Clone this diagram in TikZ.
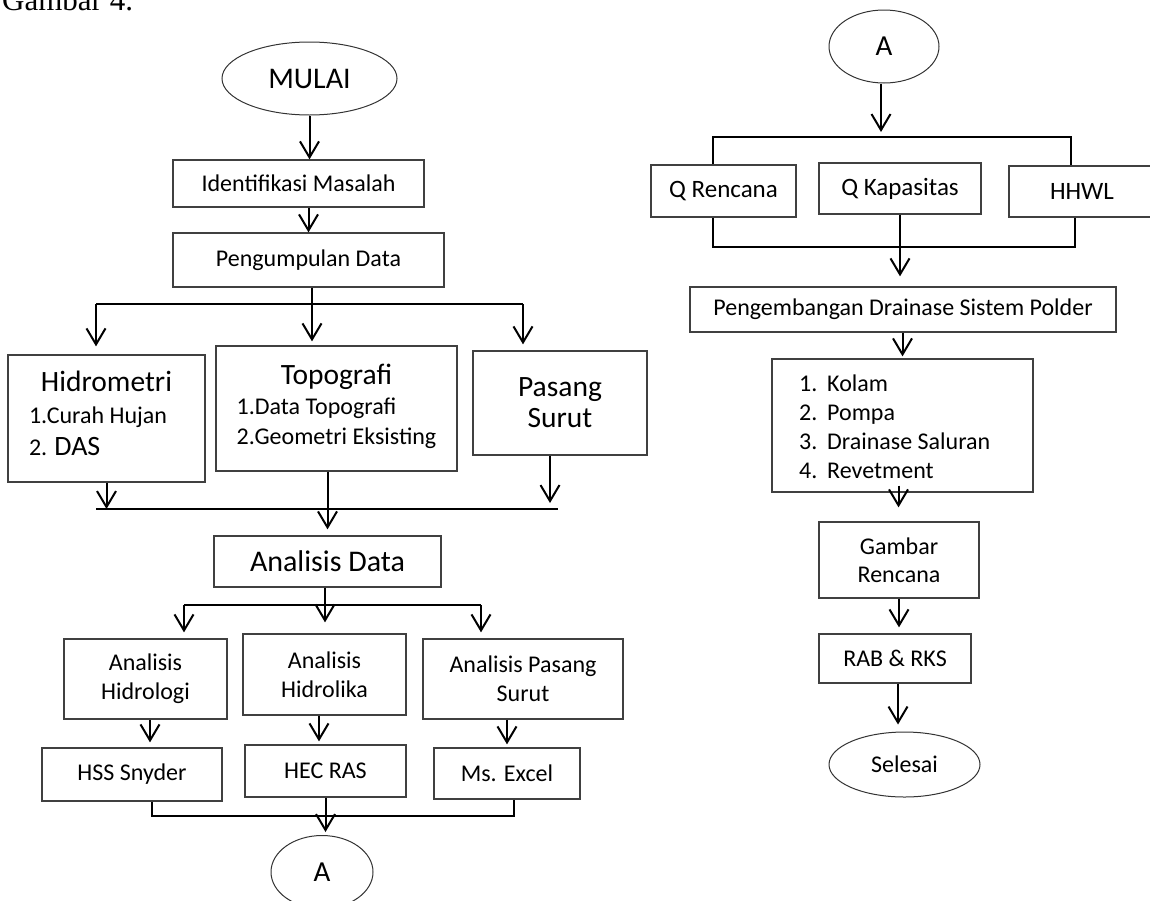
\documentclass[tikz,border=0pt]{standalone}
\usepackage{fontspec}
\setmainfont{Carlito}
\newfontfamily\serifjudul{Liberation Serif}
\usepackage{tikz}
\usetikzlibrary{positioning}
\usetikzlibrary{shapes.geometric,arrows.meta}

\newcommand\huruf[2]{\fontsize{#1pt}{#2pt}\selectfont}

\begin{document}
\begin{tikzpicture}[x=1pt, y=-1pt,
	kotak/.style={draw=black!75, line width=1.3pt, rectangle, inner sep=0pt, align=center},
	bulat/.style={draw=black!80, line width=1pt, ellipse, inner sep=0pt},
	garis/.style={line width=2pt},
	panah/.style={line width=2pt, -{Straight Barb[length=16pt,width=19pt]}},
]
\useasboundingbox (0,0) rectangle (1150,900);


\newcommand\busA{304};
\newcommand\busB{509};
\newcommand\busC{605};
\newcommand\busD{816};
\newcommand\busE{137};
\newcommand\busF{247};


% Judul
\node [anchor=base west, inner sep=0pt, font=\serifjudul\huruf{31}{36}] (judul) at (2, 10) {Gambar 4.};

% Mulai
\node [bulat,
	minimum width=175pt,
	minimum height=73pt,
	font=\huruf{30}{36}
] (mulai) at (309.5, 78.5) {MULAI};

% Identifikasi masalah
\node [kotak,
	minimum width=251pt,
	minimum height=47pt,
	font=\huruf{24}{29}
] (identifikasi) at (298.5, 183.5) {Identifikasi Masalah};

% Pengumpulan data
\node [kotak,
	minimum width=271pt,
	minimum height=54pt,
	font=\huruf{24}{29}
] (pengumpulan) at (308.5, 260) {Pengumpulan Data};

% Hidrometri
\node [kotak,
	minimum width=197pt,
	minimum height=127pt,
	font=\huruf{24}{32}
] (hidrometri) at (106.5, 418.5) {
{\huruf{29.5}{32}Hidrometri}\\
\begin{tabular}[t]{@{}l@{\hspace{17pt}}}1.Curah Hujan\\2. {\huruf{28}{32}DAS}\end{tabular}
};

% Topografi
\node [kotak,
	minimum width=241pt,
	minimum height=125pt,
	font=\huruf{24}{30}
] (topografi) at (336.5, 408.5) {
{\huruf{29.5}{32}Topografi}\\
\begin{tabular}[t]{@{}l@{}}1.Data Topografi\\2.Geometri Eksisting\end{tabular}
};

% Pasang surut
\node [kotak,
	minimum width=174pt,
	minimum height=104pt,
	font=\huruf{29.5}{31}
] (pasang) at (560, 403) {
Pasang\\
Surut
};

% Analisis data
\node [kotak,
	minimum width=227pt,
	minimum height=51pt,
	font=\huruf{30}{36}
] (analisisdata) at (327.5, 561.5) {Analisis Data};

% Analisis hidrologi
\node [kotak,
	minimum width=163pt,
	minimum height=80pt,
	font=\huruf{24}{29}
] (hidrologi) at (145.5, 679) {
Analisis\\
Hidrologi
};

% Analisis hidrolika
\node [kotak,
	minimum width=163pt,
	minimum height=81pt,
	font=\huruf{24}{29}
] (hidrolika) at (324.5, 674.5) {
Analisis\\
Hidrolika
};

% Analisis pasang surut
\node [kotak,
	minimum width=200pt,
	minimum height=80pt,
	font=\huruf{24}{29}
] (analisispasang) at (523, 679) {
Analisis Pasang\\
Surut
};

% HSS Snyder
\node [kotak,
	minimum width=180pt,
	minimum height=53pt,
	font=\huruf{24}{29}
] (hss) at (132, 774.5) {HSS Snyder};

% HEC RAS
\node [kotak,
	minimum width=161pt,
	minimum height=52pt,
	font=\huruf{24}{29}
] (hecras) at (325.5, 771) {HEC RAS};

% Ms. Excel
\node [kotak,
	minimum width=146pt,
	minimum height=51pt,
	font=\huruf{24}{29}
] (excel) at (507, 773.5) {Ms. Excel};

% Penghubung A (kiri)
\node [bulat,
	minimum width=102pt,
	minimum height=73pt,
	font=\huruf{29}{34}
] (a_kiri) at (322, 872) {A};

% Penghubung A (kanan)
\node [bulat,
	minimum width=110pt,
	minimum height=73pt,
	font=\huruf{29}{34}
] (a_kanan) at (884, 46.5) {A};

% Q rencana
\node [kotak,
	minimum width=145pt,
	minimum height=52pt,
	font=\huruf{25}{30}
] (qrencana) at (723.5, 191) {Q Rencana};

% Q kapasitas
\node [kotak,
	minimum width=162pt,
	minimum height=51pt,
	font=\huruf{25}{30}
] (qkapasitas) at (900, 188.5) {Q Kapasitas};

% HHWL
\node [kotak,
	minimum width=146pt,
	minimum height=51pt,
	font=\huruf{25}{30}
] (hhwl) at (1082, 191.5) {HHWL};

% Pengembangan drainase
\node [kotak,
	minimum width=426pt,
	minimum height=45pt,
	font=\huruf{24}{29}
] (pengembangan) at (903, 309.5) {Pengembangan Drainase Sistem Polder};

% Rencana bangunan
\node [kotak,
	minimum width=261pt,
	minimum height=133pt,
	font=\huruf{24}{29}
] (rencana) at (902.5, 425.5) {
\begin{tabular}{@{}p{28pt}@{}l@{\hspace{10pt}}}
\rule{0pt}{28pt}1. & Kolam\\
2. & Pompa\\
3. & Drainase Saluran\\
4. & Revetment
\end{tabular}
};

% Gambar rencana
\node [kotak,
	minimum width=160pt,
	minimum height=76pt,
	font=\huruf{24}{28}
] (gambar) at (899, 560) {
Gambar\\
Rencana
};

% RAB & RKS
\node [kotak,
	minimum width=152pt,
	minimum height=49pt,
	font=\huruf{24}{28}
] (rab) at (895, 658.5) {RAB \& RKS};

% Selesai
\node [bulat,
	minimum width=151pt,
	minimum height=65pt,
	font=\huruf{24}{28}
] (selesai) at (904.5, 764.5) {Selesai};


% Titik cabang
\coordinate (busA_kiri) at (96, \busA);
\coordinate (busA_kanan) at (523, \busA);
\coordinate (busB_kiri) at (96, \busB);
\coordinate (busB_kanan) at (558, \busB);
\coordinate (busC_kiri) at (184, \busC);
\coordinate (busC_kanan) at (481, \busC);
\coordinate (busD_kiri) at (152, \busD);
\coordinate (busD_kanan) at (514, \busD);
\coordinate (busE_kiri) at (713, \busE);
\coordinate (busE_kanan) at (1071, \busE);
\coordinate (busF_kiri) at (713, \busF);
\coordinate (busF_kanan) at (1075, \busF);


% Panah kolom kiri
\draw[panah] (mulai.south) -- (mulai.south |- identifikasi.north);
\draw[panah] (pengumpulan.north |- identifikasi.south) -- (pengumpulan.north);

\draw[garis] (busA_kiri) -- (busA_kanan);
\draw[panah, shorten >=4pt] ([xshift=3.5pt]pengumpulan.south) -- ([xshift=3.5pt]pengumpulan.south |- topografi.north);
\draw[panah, shorten >=8pt] (busA_kiri) -- (busA_kiri |- hidrometri.north);
\draw[panah, shorten >=6pt] (busA_kanan) -- (busA_kanan |- pasang.north);

\draw[garis] (busB_kiri) -- (busB_kanan);
\draw[panah] (hidrometri.south) -- (hidrometri.south |- busB_kiri);
\draw[panah, shorten >=6pt] ([xshift=-10pt]pasang.south) -- ([xshift=-10pt]pasang.south |- busB_kiri);
\draw[panah, shorten >=6pt] (analisisdata.north |- topografi.south) -- (analisisdata.north);

\draw[garis] (busC_kiri) -- (busC_kanan);
\draw[panah, shorten >=11pt] ([xshift=-2.5pt]analisisdata.south) -- ([xshift=-2.5pt]analisisdata.south |- hidrolika.north);
\draw[panah, shorten >=6pt] (busC_kiri) -- (busC_kiri |- hidrologi.north);
\draw[panah, shorten >=6pt] (busC_kanan) -- (busC_kanan |- analisispasang.north);

\draw[panah, shorten >=5pt] ([xshift=4.5pt]hidrologi.south) -- ([xshift=4.5pt]hidrologi.south |- hss.north);
\draw[panah, shorten >=3pt] ([xshift=-5.5pt]hidrolika.south) -- ([xshift=-5.5pt]hidrolika.south |- hecras.north);
\draw[panah, shorten >=3pt] (excel.north |- analisispasang.south) -- (excel.north);

\draw[garis] (busD_kiri |- hss.south) -- (busD_kiri) -- (busD_kanan) -- (busD_kanan |- excel.south);
\draw[panah, shorten >=3pt] (hecras.south) -- (hecras.south |- a_kiri.north);


% Panah kolom kanan
\draw[panah, shorten >=5pt] ([xshift=-3pt]a_kanan.south) -- ([xshift=-3pt]a_kanan.south |- busE_kiri);
\draw[garis] (busE_kiri |- qrencana.north) -- (busE_kiri) -- (busE_kanan) -- (busE_kanan |- hhwl.north);

\draw[garis] (busF_kiri |- qrencana.south) -- (busF_kiri) -- (busF_kanan) -- (busF_kanan |- hhwl.south);
\draw[panah, shorten >=10pt] (qkapasitas.south) -- (qkapasitas.south |- pengembangan.north);

\draw[panah, shorten >=2pt] (rencana.north |- pengembangan.south) -- (rencana.north);
\draw[panah, shorten >=14pt] ([xshift=-4pt,yshift=7pt]rencana.south) -- ([xshift=-4pt]rencana.south |- gambar.north);
\draw[panah, shorten >=6pt] (gambar.south) -- (gambar.south |- rab.north);
\draw[panah, shorten >=7pt] ([xshift=3pt]rab.south) -- ([xshift=3pt]rab.south |- selesai.north);

\end{tikzpicture}
\end{document}
